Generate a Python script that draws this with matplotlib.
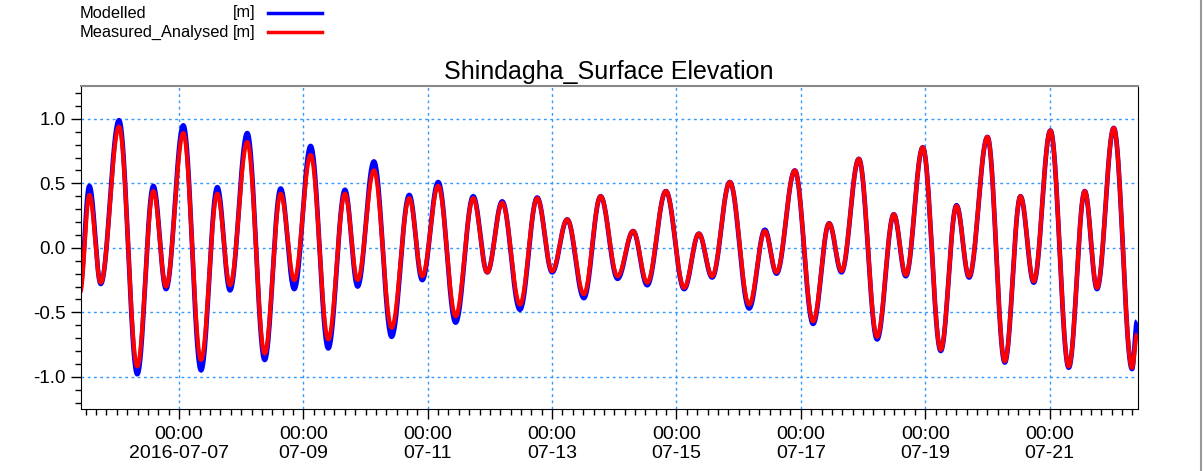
import numpy as np
import pandas as pd
import matplotlib
matplotlib.use('Agg')
import matplotlib.pyplot as plt
import matplotlib.dates as mdates
from matplotlib.ticker import MultipleLocator, FuncFormatter
from matplotlib.lines import Line2D

plt.rcParams['font.family'] = ['Liberation Sans', 'DejaVu Sans']

# turning points of the tide curve (times)
times = ['2016-07-05 09:48', '2016-07-05 13:24', '2016-07-05 17:48', '2016-07-06 00:51',
         '2016-07-06 07:54', '2016-07-06 14:06', '2016-07-06 19:00', '2016-07-07 01:40',
         '2016-07-07 08:30', '2016-07-07 14:47', '2016-07-07 19:41', '2016-07-08 02:21',
         '2016-07-08 09:04', '2016-07-08 15:14', '2016-07-08 20:29', '2016-07-09 02:49',
         '2016-07-09 09:37', '2016-07-09 16:03', '2016-07-09 20:57', '2016-07-10 03:14',
         '2016-07-10 10:04', '2016-07-10 16:52', '2016-07-10 21:53', '2016-07-11 04:03',
         '2016-07-11 10:46', '2016-07-11 17:33', '2016-07-11 22:58', '2016-07-12 04:45',
         '2016-07-12 11:35', '2016-07-12 18:15', '2016-07-13 00:02', '2016-07-13 05:50',
         '2016-07-13 12:16', '2016-07-13 18:43', '2016-07-14 01:16', '2016-07-14 07:17',
         '2016-07-14 12:42', '2016-07-14 19:55', '2016-07-15 02:58', '2016-07-15 08:38',
         '2016-07-15 13:47', '2016-07-15 20:36', '2016-07-16 04:03', '2016-07-16 10:07',
         '2016-07-16 14:37', '2016-07-16 21:41', '2016-07-17 04:44', '2016-07-17 10:55',
         '2016-07-17 15:42', '2016-07-17 22:23', '2016-07-18 05:26', '2016-07-18 11:53',
         '2016-07-18 16:31', '2016-07-18 23:04', '2016-07-19 06:00', '2016-07-19 12:05',
         '2016-07-19 16:56', '2016-07-20 00:02', '2016-07-20 06:43', '2016-07-20 12:46',
         '2016-07-20 17:54', '2016-07-21 00:20', '2016-07-21 07:24', '2016-07-21 13:35',
         '2016-07-21 18:19', '2016-07-22 00:46', '2016-07-22 07:50', '2016-07-22 09:46']

measured = [-0.35, 0.41, -0.27, 0.94, -0.92, 0.44, -0.30, 0.89, -0.87, 0.42, -0.29, 0.82,
            -0.82, 0.42, -0.25, 0.72, -0.71, 0.42, -0.25, 0.60, -0.62, 0.385, -0.22, 0.48,
            -0.53, 0.385, -0.19, 0.35, -0.44, 0.385, -0.18, 0.22, -0.36, 0.40, -0.22, 0.13,
            -0.27, 0.44, -0.31, 0.11, -0.22, 0.51, -0.44, 0.13, -0.19, 0.60, -0.57, 0.19,
            -0.18, 0.69, -0.69, 0.26, -0.21, 0.78, -0.79, 0.325, -0.22, 0.86, -0.88, 0.40,
            -0.26, 0.91, -0.92, 0.44, -0.31, 0.93, -0.93, -0.67]

modelled = [-0.30, 0.48, -0.28, 0.99, -0.98, 0.48, -0.32, 0.95, -0.95, 0.47, -0.33, 0.89,
            -0.87, 0.46, -0.32, 0.79, -0.78, 0.45, -0.30, 0.67, -0.69, 0.41, -0.25, 0.51,
            -0.58, 0.40, -0.19, 0.36, -0.48, 0.39, -0.19, 0.22, -0.39, 0.40, -0.24, 0.13,
            -0.29, 0.44, -0.32, 0.11, -0.23, 0.51, -0.47, 0.14, -0.20, 0.60, -0.59, 0.19,
            -0.19, 0.69, -0.71, 0.26, -0.22, 0.78, -0.80, 0.33, -0.23, 0.86, -0.89, 0.40,
            -0.27, 0.91, -0.93, 0.44, -0.32, 0.93, -0.94, -0.57]

major_days = ['2016-07-07', '2016-07-09', '2016-07-11', '2016-07-13',
              '2016-07-15', '2016-07-17', '2016-07-19', '2016-07-21']


def smooth(t, v, n=40):
    # half-cosine shape between consecutive turning points
    t = mdates.date2num(pd.to_datetime(t))
    xs, ys = [], []
    for i in range(len(t) - 1):
        s = np.linspace(0, 1, n, endpoint=False)
        xs.append(t[i] + (t[i + 1] - t[i]) * s)
        ys.append(v[i] + (v[i + 1] - v[i]) * (1 - np.cos(np.pi * s)) / 2)
    xs.append([t[-1]])
    ys.append([v[-1]])
    return np.concatenate(xs), np.concatenate(ys)


fig = plt.figure(figsize=(12.04, 4.71), dpi=100)
ax = fig.add_axes([0.0669, 0.1316, 0.878, 0.6858])

xm, ym = smooth(times, modelled)
xr, yr = smooth(times, measured)
ax.plot(xm, ym, color='#0000ff', lw=3.4, solid_capstyle='butt')
ax.plot(xr, yr, color='#ff0000', lw=3.0, solid_capstyle='butt')

ax.set_xlim(mdates.date2num(pd.Timestamp('2016-07-05 10:00')),
            mdates.date2num(pd.Timestamp('2016-07-22 10:00')))
ax.set_ylim(-1.25, 1.255)

ax.set_xticks(mdates.date2num(pd.to_datetime(major_days)))
ax.xaxis.set_minor_locator(mdates.HourLocator(byhour=range(0, 24, 4)))


def fmt_x(x, pos):
    d = mdates.num2date(x)
    if pos == 0:
        return '00:00\n' + d.strftime('%Y-%m-%d')
    return '00:00\n' + d.strftime('%m-%d')


ax.xaxis.set_major_formatter(FuncFormatter(fmt_x))
ax.yaxis.set_major_locator(MultipleLocator(0.5))
ax.yaxis.set_minor_locator(MultipleLocator(0.1))
ax.yaxis.set_major_formatter(FuncFormatter(lambda y, p: '%.1f' % y))

ax.tick_params(axis='both', which='major', labelsize=14, direction='out', length=7, width=1)
ax.tick_params(axis='both', which='minor', direction='out', length=4.5, width=1)
ax.tick_params(axis='x', pad=5)
ax.tick_params(axis='y', labelsize=13.5)

ax.grid(True, which='major', color='#3399ff', ls=(0, (2, 2.5)), lw=1)
ax.set_axisbelow(True)

ax.spines['top'].set_color('#888888')
for s in ['left', 'right', 'bottom']:
    ax.spines[s].set_color('black')
ax.spines['top'].set_linewidth(1.5)

ax.set_title('Shindagha_Surface Elevation', fontsize=18, pad=5)

# legend drawn above the plot area
fs = 11.8
fig.text(80 / 1204, 1 - 13 / 471, 'Modelled', fontsize=fs, va='center', ha='left')
fig.text(233 / 1204, 1 - 13 / 471, '[m]', fontsize=fs, va='center', ha='left')
fig.text(80 / 1204, 1 - 32 / 471, 'Measured_Analysed', fontsize=fs, va='center', ha='left')
fig.text(233 / 1204, 1 - 32 / 471, '[m]', fontsize=fs, va='center', ha='left')
fig.add_artist(Line2D([268 / 1204, 322 / 1204], [1 - 13 / 471, 1 - 13 / 471],
                      color='#0000ff', lw=2.5, transform=fig.transFigure))
fig.add_artist(Line2D([268 / 1204, 322 / 1204], [1 - 32 / 471, 1 - 32 / 471],
                      color='#ff0000', lw=2.5, transform=fig.transFigure))
fig.add_artist(Line2D([0.9975, 0.9975], [0, 1], color='#999999', lw=1.5,
                      transform=fig.transFigure))

fig.savefig('out.png', dpi=100)
